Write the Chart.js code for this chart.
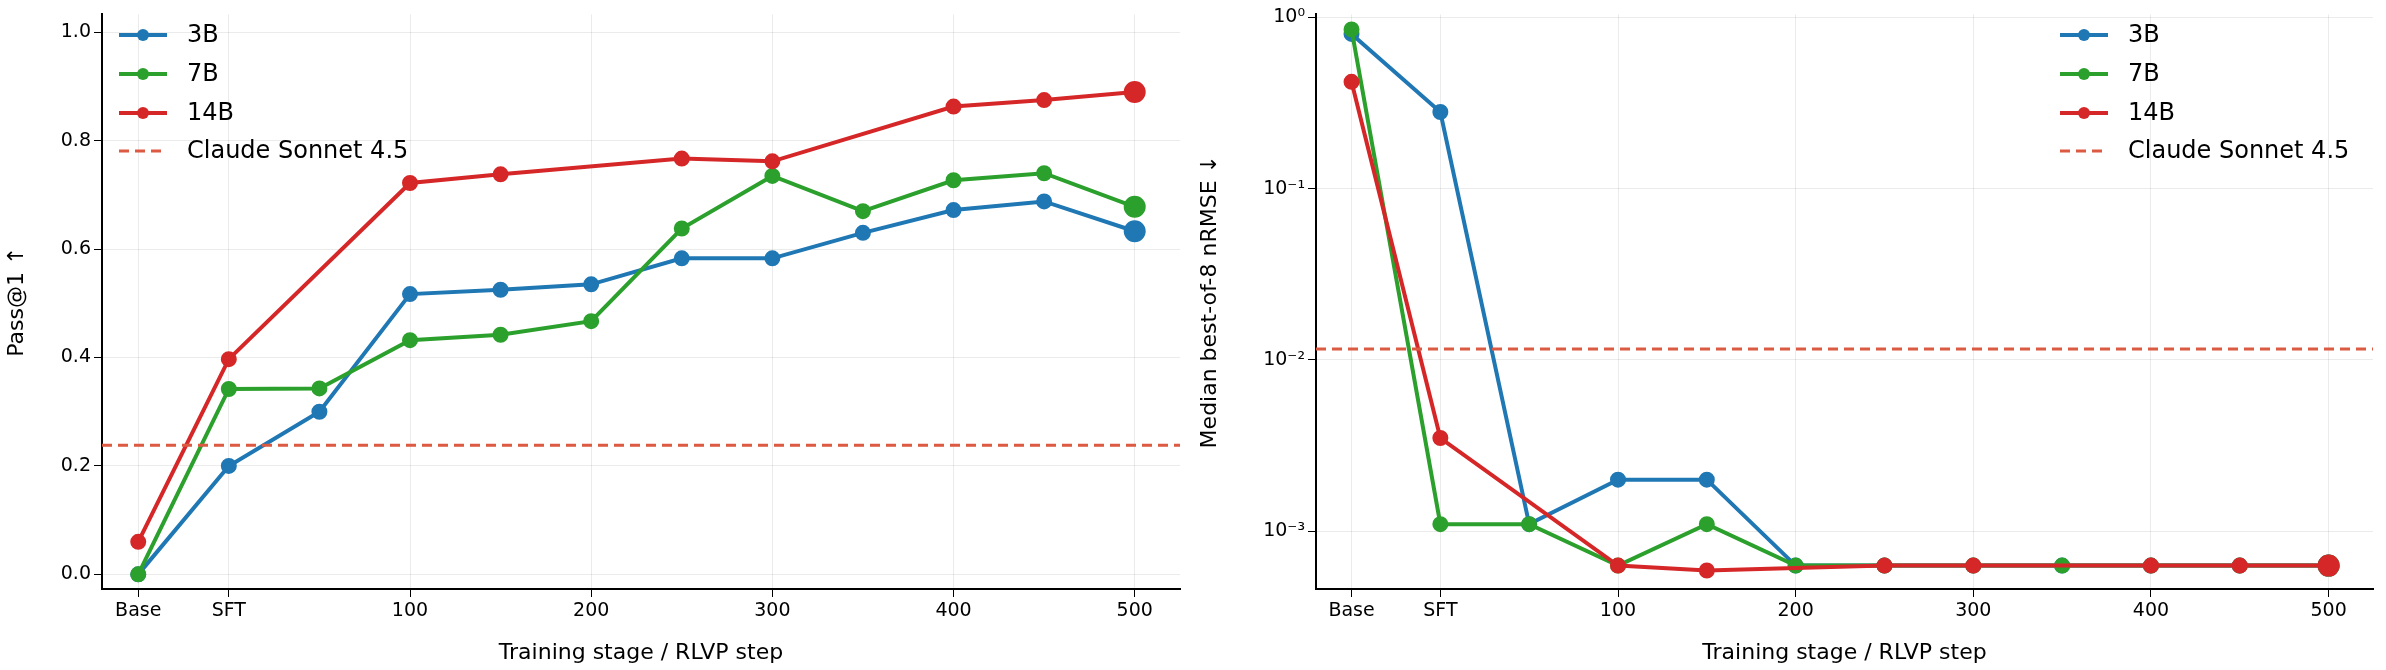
<!DOCTYPE html>
<html>
<head>
<meta charset="utf-8">
<script src="https://cdn.jsdelivr.net/npm/chart.js@4.4.0/dist/chart.umd.min.js"></script>
<style>
  body { margin: 0; background: #fff; }
  canvas { position: absolute; top: 0; }
</style>
</head>
<body>
<canvas id="passChart" width="1193" height="670" style="left:0"></canvas>
<canvas id="rmseChart" width="1193" height="670" style="left:1193px"></canvas>
<script>
// x positions: Base = -50, SFT = 0, then RLVP steps
const steps = [-50, 0, 50, 100, 150, 200, 250, 300, 350, 400, 450, 500];
const tickSteps = [-50, 0, 100, 200, 300, 400, 500];
const tickNames = { "-50": "Base", "0": "SFT" };

// Pass@1
const pass3B = [0.0, 0.2, 0.3, 0.517, 0.525, 0.535, 0.583, 0.583, 0.63, 0.672, 0.688, 0.633];
const pass7B = [0.0, 0.342, 0.343, 0.432, 0.442, 0.467, 0.638, 0.735, 0.67, 0.727, 0.74, 0.678];
const pass14B = [0.06, 0.397, null, 0.722, 0.738, null, 0.767, 0.762, null, 0.863, 0.875, 0.89];
const passClaude = 0.238;

// median best-of-8 nRMSE
const rmse3B = [0.8, 0.28, 0.0011, 0.002, 0.002, 0.00063, 0.00063, 0.00063, 0.00063, 0.00063, 0.00063, 0.00063];
const rmse7B = [0.85, 0.0011, 0.0011, 0.00063, 0.0011, 0.00063, 0.00063, 0.00063, 0.00063, 0.00063, 0.00063, 0.00063];
const rmse14B = [0.42, 0.0035, null, 0.00063, 0.00059, null, 0.00063, 0.00063, null, 0.00063, 0.00063, 0.00063];
const rmseClaude = 0.0116;

const seriesNames = ["3B", "7B", "14B"];
const colors = ["#1f77b4", "#2ca02c", "#d62728"];
const claudeColor = "#dc5a41";
const font = "DejaVu Sans";

const makeSets = (lists) => lists.map((vals, i) => ({
    label: seriesNames[i],
    data: steps.map((x, j) => ({ x: x, y: vals[j] })),
    borderColor: colors[i],
    backgroundColor: colors[i],
    borderWidth: 4,
    pointRadius: (c) => c.dataIndex === steps.length - 1 ? 9 : 6,
    pointHoverRadius: 6,
    spanGaps: true,
    order: 3 - i
}));

// dashed reference line + legend inside the plot area
const refAndLegend = (refValue, legendX) => ({
    id: "refAndLegend",
    afterDatasetsDraw(chart) {
        const ctx = chart.ctx, a = chart.chartArea;
        const y = chart.scales.y.getPixelForValue(refValue);
        ctx.save();
        ctx.strokeStyle = claudeColor;
        ctx.lineWidth = 3;
        ctx.setLineDash([10, 6]);
        ctx.beginPath(); ctx.moveTo(a.left, y); ctx.lineTo(a.right, y); ctx.stroke();
        const rows = [35, 74, 113, 151];
        const names = seriesNames.concat(["Claude Sonnet 4.5"]);
        ctx.font = "24px '" + font + "'";
        ctx.textBaseline = "middle";
        names.forEach((n, i) => {
            const ly = rows[i];
            ctx.setLineDash(i === 3 ? [10, 6] : []);
            ctx.strokeStyle = i === 3 ? claudeColor : colors[i];
            ctx.lineWidth = i === 3 ? 3 : 4;
            ctx.beginPath(); ctx.moveTo(legendX, ly); ctx.lineTo(legendX + 48, ly); ctx.stroke();
            if (i < 3) {
                ctx.fillStyle = colors[i];
                ctx.beginPath(); ctx.arc(legendX + 24, ly, 6, 0, Math.PI * 2); ctx.fill();
            }
            ctx.fillStyle = "#000";
            ctx.fillText(n, legendX + 68, ly + 1);
        });
        ctx.restore();
    }
});

const xScale = {
    type: "linear", min: -70, max: 525,
    afterBuildTicks: (s) => { s.ticks = tickSteps.map(v => ({ value: v })); },
    afterFit: (s) => { s.height = 81; },
    ticks: { color: "#000", font: { family: font, size: 19 }, callback: (v) => tickNames[v] !== undefined ? tickNames[v] : v },
    grid: { color: "rgba(0,0,0,0.08)", tickLength: 8, tickColor: "#000" },
    border: { display: true, color: "#000", width: 2 },
    title: { display: true, text: "Training stage / RLVP step", color: "#000", font: { family: font, size: 22 }, padding: { top: 4 } }
};

const baseOptions = (yScale, padLeft, padRight) => ({
    responsive: false,
    animation: false,
    layout: { padding: { top: 7, right: padRight, left: 0, bottom: 0 } },
    plugins: { legend: { display: false }, tooltip: { enabled: false } },
    scales: { x: xScale, y: yScale }
});

new Chart(document.getElementById("passChart"), {
    type: "line",
    data: { datasets: makeSets([pass3B, pass7B, pass14B]) },
    options: baseOptions({
        type: "linear", min: -0.027, max: 1.033,
        afterBuildTicks: (s) => { s.ticks = [0, 0.2, 0.4, 0.6, 0.8, 1.0].map(v => ({ value: v })); },
        afterFit: (s) => { s.width = 102; },
        ticks: { color: "#000", font: { family: font, size: 19 }, callback: (v) => v.toFixed(1) },
        grid: { color: "rgba(0,0,0,0.08)", tickLength: 8, tickColor: "#000" },
        border: { display: true, color: "#000", width: 2 },
        title: { display: true, text: "Pass@1 ↑", color: "#000", font: { family: font, size: 22 } }
    }, 0, 8),
    plugins: [refAndLegend(passClaude, 119)]
});

const sup = { "0": "⁰", "-1": "⁻¹", "-2": "⁻²", "-3": "⁻³" };
new Chart(document.getElementById("rmseChart"), {
    type: "line",
    data: { datasets: makeSets([rmse3B, rmse7B, rmse14B]) },
    options: baseOptions({
        type: "logarithmic", min: 0.00046, max: 1.04,
        afterBuildTicks: (s) => { s.ticks = [1, 0.1, 0.01, 0.001].map(v => ({ value: v })); },
        afterFit: (s) => { s.width = 123; },
        ticks: { color: "#000", font: { family: font, size: 19 }, callback: (v) => "10" + sup[String(Math.round(Math.log10(v)))] },
        grid: { color: "rgba(0,0,0,0.08)", tickLength: 8, tickColor: "#000" },
        border: { display: true, color: "#000", width: 2 },
        title: { display: true, text: "Median best-of-8 nRMSE ↓", color: "#000", font: { family: font, size: 22 } }
    }, 0, 5),
    plugins: [refAndLegend(rmseClaude, 867)]
});
</script>
</body>
</html>
